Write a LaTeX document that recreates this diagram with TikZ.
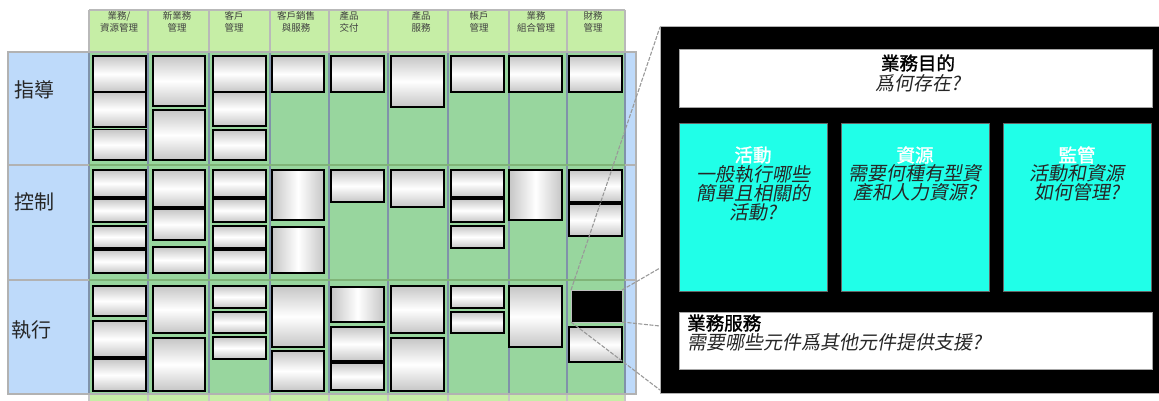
\documentclass[tikz,border=0pt]{standalone}
\usepackage{fontspec}
\setmainfont{Noto Sans CJK TC}
\newfontfamily\cjkit[FakeSlant=0.18]{Noto Sans CJK TC}
\newfontfamily\cjkbf[FakeBold=1.5]{Noto Sans CJK TC}
\definecolor{hdrgreen}{RGB}{198,238,166}
\definecolor{bodygreen}{RGB}{152,214,158}
\definecolor{rowblue}{RGB}{190,218,250}
\definecolor{sepblue}{RGB}{128,146,170}
\definecolor{divgreen}{RGB}{128,180,120}
\definecolor{aqua}{RGB}{32,255,232}
\tikzset{
 gb/.style={draw=black,line width=1.3pt,top color=gray!45,bottom color=gray!45,middle color=white},
 gbh/.style={draw=black,line width=1.3pt,left color=gray!45,right color=gray!45,middle color=white},
 hdr/.style={align=center,font=\fontsize{9.5}{12}\selectfont,text=black!75,inner sep=0pt},
 rowlab/.style={anchor=west,font=\fontsize{20}{22}\selectfont,text=black!85,inner sep=0pt},
 zoomline/.style={draw=gray!80,line width=1.1pt,dash pattern=on 4pt off 1.5pt},
 panelbox/.style={fill=white,draw=gray!70,line width=0.8pt,anchor=north west,inner sep=0pt,outer sep=0pt},
 aquabox/.style={fill=aqua,draw=black!60,line width=0.6pt,anchor=north west,inner sep=0pt,outer sep=0pt,minimum width=148pt,minimum height=168pt},
 ttl/.style={font=\cjkbf\fontsize{18.5}{20}\selectfont,inner sep=0pt},
 qtxt/.style={font=\cjkit\fontsize{19}{19}\selectfont,text=black!85,inner sep=0pt,align=center},
}
\newcommand\gbox[5][gb]{\path[#1] (#2,#3) rectangle (#4,#5);}
\begin{document}
\begin{tikzpicture}[x=1pt,y=-1pt]
\useasboundingbox (0,0) rectangle (1159,401);
% blue row band
\fill[rowblue] (8,52) rectangle (636,394);
% columns
\foreach \xa/\xb in {89/148,148/209,209/270,270/329,329/388,388/448,448/509,509/567,567/625}{
  \fill[hdrgreen] (\xa,10) rectangle (\xb,401);
  \fill[bodygreen] (\xa,52) rectangle (\xb,394);
}
\draw[gray!55,line width=1.5pt] (89,10) -- (625,10);
\foreach \xx in {89,148,209,270,329,388,448,509,567,625}{
  \draw[gray!55,line width=2pt] (\xx,10) -- (\xx,52);
  \draw[sepblue,line width=2.5pt] (\xx,52) -- (\xx,394);
  \draw[gray!45,line width=2pt] (\xx,394) -- (\xx,401);
}
% row band outline and dividers
\draw[gray!60,line width=1.5pt] (8,52) rectangle (636,394);
\foreach \yy in {165,280}{
  \draw[gray!60,line width=2pt] (8,\yy) -- (89,\yy);
  \draw[divgreen,line width=2pt] (89,\yy) -- (625,\yy);
  \draw[gray!60,line width=2pt] (625,\yy) -- (636,\yy);
}
% header labels
\node[hdr] (h1) at (119,22) {業務/\\資源管理};
\node[hdr] (h2) at (177,22) {新業務\\管理};
\node[hdr] (h3) at (234,22) {客戶\\管理};
\node[hdr] (h4) at (296,22) {客戶銷售\\與服務};
\node[hdr] (h5) at (349,22) {產品\\交付};
\node[hdr] (h6) at (421,22) {產品\\服務};
\node[hdr] (h7) at (479,22) {帳戶\\管理};
\node[hdr] (h8) at (536,22) {業務\\組合管理};
\node[hdr] (h9) at (593,22) {財務\\管理};
% row labels
\node[rowlab] (r1) at (14,90) {指導};
\node[rowlab] (r2) at (14,202) {控制};
\node[rowlab] (r3) at (11,330) {執行};
% boxes: row 1
\gbox{93}{56}{146}{92}\gbox{93}{92}{146}{127}\gbox{93}{129.5}{146}{160}
\gbox{153}{56}{205}{106}\gbox{153}{110}{205}{160}
\gbox{213}{56}{266}{92}\gbox{213}{92}{266}{126}\gbox{213}{130}{266}{160}
\gbox{272}{56}{324}{92}
\gbox{331}{56}{384}{92}
\gbox{391}{56}{444}{107}
\gbox{451}{56}{504}{92}
\gbox{509}{56}{562}{92}
\gbox{569}{56}{622}{92}
% row 2
\gbox{93}{170}{146}{197}\gbox{93}{199}{146}{222}\gbox{93}{226}{146}{248}\gbox{93}{250}{146}{273}
\gbox{153}{170}{205}{207}\gbox{153}{209}{205}{240}\gbox{153}{247}{205}{273}
\gbox{213}{170}{266}{197}\gbox{213}{199}{266}{222}\gbox{213}{226}{266}{248}\gbox{213}{250}{266}{273}
\gbox[gbh]{272}{170}{324}{220}\gbox[gbh]{272}{227}{324}{273}
\gbox{331}{170}{384}{202}
\gbox{391}{170}{444}{207}
\gbox{451}{170}{504}{197}\gbox{451}{199}{504}{222}\gbox{451}{226}{504}{248}
\gbox[gbh]{509}{170}{562}{220}
\gbox{569}{170}{622}{202}\gbox{569}{204}{622}{236}
% row 3
\gbox{93}{286}{146}{316}\gbox{93}{321}{146}{357}\gbox{93}{359}{146}{391}
\gbox{153}{286}{205}{333}\gbox{153}{338}{205}{391}
\gbox{213}{286}{266}{308}\gbox{213}{312}{266}{333}\gbox{213}{337}{266}{359}
\gbox{272}{286}{324}{347}\gbox{272}{351}{324}{391}
\gbox[gbh]{331}{287}{384}{322}\gbox{331}{327}{384}{361}\gbox{331}{363}{384}{390}
\gbox{391}{286}{444}{333}\gbox{391}{338}{444}{391}
\gbox{451}{286}{504}{308}\gbox{451}{312}{504}{333}
\gbox{509}{286}{562}{347}
\gbox{569}{327}{622}{362}
\node[fill=black,draw=gray!50,line width=0.8pt,anchor=north west,inner sep=0pt,outer sep=0pt,minimum width=51pt,minimum height=32pt] (bb) at (571,290) {};
% big panel
\node[fill=black,draw=gray!60,line width=1pt,anchor=north west,inner sep=0pt,outer sep=0pt,minimum width=505pt,minimum height=366pt] (panel) at (660,27) {};
\coordinate (z2) at (660,268);
\coordinate (z3) at (660,326);
\coordinate (z4) at (660,390);
\draw[zoomline] (bb.north west) -- (panel.north west);
\draw[zoomline] (bb.north east) -- (z2);
\draw[zoomline] (bb.south east) -- (z3);
\draw[zoomline] (bb.south west) -- (z4);
\node[panelbox,minimum width=473pt,minimum height=58pt] (purpose) at (679,49) {};
\node[aquabox] (act) at (679,123) {};
\node[aquabox] (res) at (841,123) {};
\node[aquabox] (gov) at (1003,123) {};
\node[panelbox,minimum width=473pt,minimum height=57pt] (svc) at (679,312) {};
% panel texts
\node[ttl] (ptitle) at (918,63) {業務目的};
\node[qtxt] (pq) at (918,83) {爲何存在?};
\node[ttl,text=white] (t1) at (753,155) {活動};
\node[qtxt] (q1) at (753,193) {一般執行哪些\\簡單且相關的\\活動?};
\node[ttl,text=white] (t2) at (915,155) {資源};
\node[qtxt] (q2) at (915,183) {需要何種有型資\\產和人力資源?};
\node[ttl,text=white] (t3) at (1077,155) {監管};
\node[qtxt] (q3) at (1077,183) {活動和資源\\如何管理?};
\node[ttl,anchor=west] (st) at (687,323) {業務服務};
\node[qtxt,anchor=west] (sq) at (687,342) {需要哪些元件爲其他元件提供支援?};
\end{tikzpicture}
\end{document}
